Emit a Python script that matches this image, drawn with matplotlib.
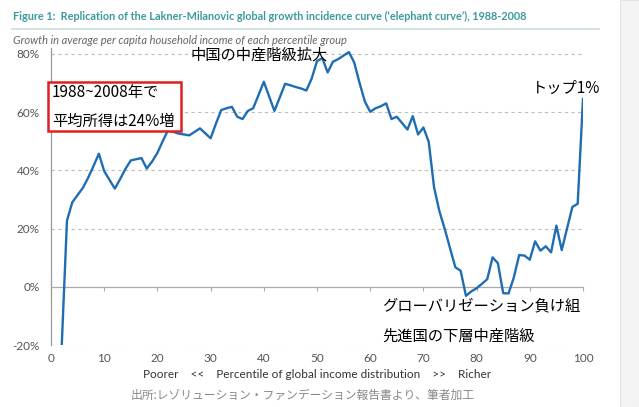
import matplotlib
matplotlib.use("Agg")
import matplotlib.pyplot as plt
from matplotlib.patches import Rectangle

JP = ["Noto Sans CJK JP", "DejaVu Sans"]
LAT = ["Lato", "DejaVu Sans"]
LINE_COLOR = "#1f6db3"

# percentile 1..100, growth in % 1988-2008
percentiles = list(range(1, 101))
growth = [
    -40, -21, 22.7, 29, 31.5, 34, 37.5, 41.5, 45.7, 39.7,
    36.7, 33.7, 37, 40.5, 43.4, 43.8, 44.2, 40.6, 43, 46,
    50, 53.8, 53.2, 52.6, 52.3, 52, 53.2, 54.4, 52.7, 51,
    56, 60.7, 61.3, 61.8, 58.4, 57.6, 60.4, 61.3, 65.8, 70.4,
    65.4, 60.4, 65, 69.7, 69.2, 68.6, 68.1, 67.4, 71.5, 77.5,
    78.5, 73.6, 77.3, 78.2, 79.4, 80.6, 77, 70, 63.6, 60.1,
    61.3, 62, 63, 57.6, 58.4, 56.2, 54, 58.6, 52.3, 54.7,
    49.8, 34.2, 26, 19.9, 13.3, 6.7, 5.5, -3.1, -1.6, -0.5,
    1, 2.6, 10.1, 8.1, -2.2, -2.3, 3.2, 10.9, 10.7, 9.3,
    15.6, 12.4, 13.9, 11.8, 21, 12.6, 20, 27.4, 28.5, 64.5,
]
yticks = [-20, 0, 20, 40, 60, 80]
xticks = [0, 10, 20, 30, 40, 50, 60, 70, 80, 90, 100]

title = ("Figure 1:  Replication of the Lakner-Milanovic global growth incidence "
         "curve (\u2018elephant curve\u2019), 1988-2008")
subtitle = "Growth in average per capita household income of each percentile group"
xlabel = "Poorer    <<    Percentile of global income distribution    >>    Richer"
source = "出所:レゾリューション・ファンデーション報告書より、筆者加工"

fig = plt.figure(figsize=(6.39, 4.07), dpi=100)
W, H = 639, 407
ax = fig.add_axes([51 / W, 1 - 345 / H, 532 / W, 297 / H])

# light side panel at the right edge
fig.patches.append(Rectangle((620 / W, 0), 19 / W, 1, transform=fig.transFigure,
                             facecolor="#f4f4f4", edgecolor="#e2e2e2", lw=0.8))

for v in yticks:
    if v != 0:
        ax.axhline(v, color="#bdbdbd", lw=0.8, ls=(0, (3, 3)), zorder=1)

ax.plot(percentiles, growth, color=LINE_COLOR, lw=1.7, zorder=3)

for s in ["top", "right"]:
    ax.spines[s].set_visible(False)
ax.spines["bottom"].set_position(("data", 0))
ax.spines["bottom"].set_color("#aaaaaa")
ax.spines["bottom"].set_linewidth(0.9)
ax.spines["left"].set_color("#999999")
ax.spines["left"].set_linewidth(0.9)

ax.set_xlim(0, 100)
ax.set_ylim(-20, 82)
ax.set_yticks(yticks)
ax.set_yticklabels([f"{v}%" for v in yticks], family=LAT, fontsize=8.5, color="#555555")
ax.set_xticks(xticks)
ax.set_xticklabels([str(v) for v in xticks], family=LAT, fontsize=8.5, color="#555555")
ax.tick_params(axis="y", length=0, pad=8)
ax.tick_params(axis="x", length=3, width=0.8, color="#aaaaaa", pad=45)

ax.set_xlabel(xlabel, family=LAT, fontsize=8.5, color="#333333", labelpad=3)

# annotations
box = Rectangle((-0.6, 53.6), 25.0, 16.8, facecolor="white", edgecolor="#e02020",
                lw=1.8, clip_on=False, zorder=4)
ax.add_patch(box)
ax.text(0.2, 66.7, "1988~2008年で", family=JP, fontsize=11, va="center", ha="left", zorder=5)
ax.text(0.2, 56.7, "平均所得は24%増", family=JP, fontsize=11, va="center", ha="left", zorder=5)
ax.text(26.3, 79.7, "中国の中産階級拡大", family=JP, fontsize=11, va="center", ha="left", zorder=5)
ax.text(90.4, 68.3, "トップ1%", family=JP, fontsize=11, va="center", ha="left", zorder=5)
ax.text(62.2, -6.6, "グローバリゼーション負け組", family=JP, fontsize=11, va="center", ha="left", zorder=5)
ax.text(62.2, -16.9, "先進国の下層中産階級", family=JP, fontsize=11, va="center", ha="left", zorder=5)

# header
fig.text(13 / W, 1 - 16 / H, title, family=LAT, fontsize=7.8, color="#3c9a9c",
         weight="bold", va="center", ha="left")
fig.add_artist(plt.Line2D([12 / W, 599 / W], [1 - 28.5 / H, 1 - 28.5 / H],
                          transform=fig.transFigure, color="#c8dede", lw=1.2))
fig.text(13 / W, 1 - 40 / H, subtitle, family=LAT, fontsize=8.0, color="#666666",
         style="italic", va="center", ha="left")

fig.text(303 / W, 1 - 395 / H, source, family=JP, fontsize=8.5, color="#888888",
         va="center", ha="center")

fig.savefig("out.png", dpi=100, facecolor="white")
